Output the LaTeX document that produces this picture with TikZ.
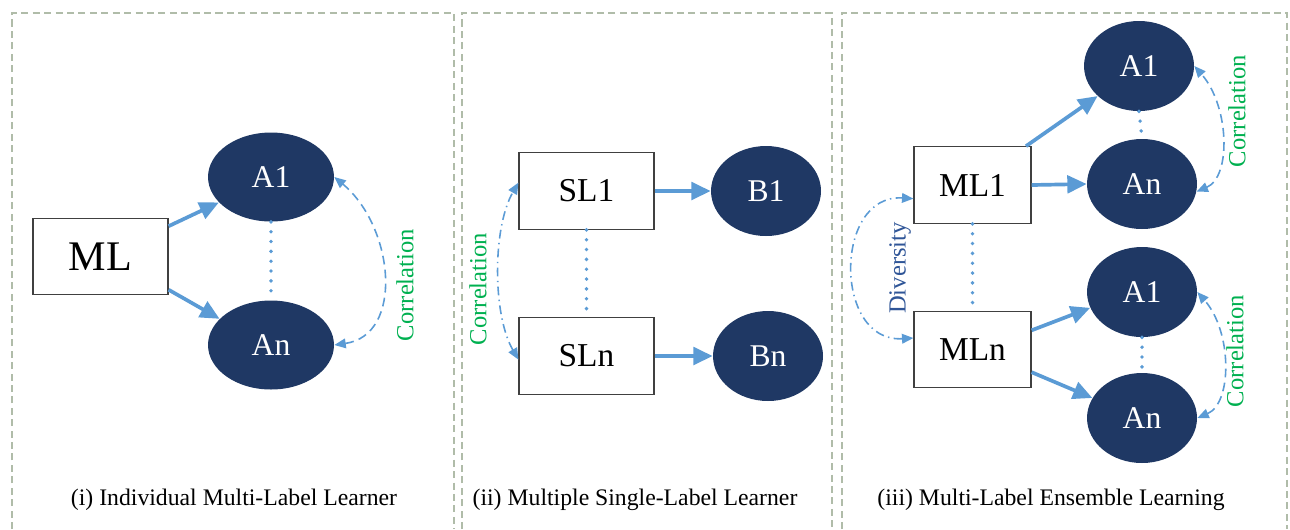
\documentclass[tikz,border=0pt]{standalone}
\usepackage{fontspec}
\setmainfont{Liberation Serif}
\usetikzlibrary{shapes.geometric,arrows.meta}
\definecolor{navy}{HTML}{1F3864}
\definecolor{flowblue}{HTML}{5B9BD5}
\definecolor{corrgreen}{HTML}{00B050}
\definecolor{divblue}{HTML}{2F5597}
\definecolor{boxgray}{HTML}{404040}
\definecolor{framegray}{HTML}{B0BCA9}
\begin{document}
\begin{tikzpicture}[x=0.02cm,y=-0.02cm,
    learner/.style={draw=boxgray,fill=white,line width=0.7pt,minimum width=2.7cm,minimum height=1.53cm,inner sep=0pt,font=\fontsize{19}{19}\selectfont},
    target/.style={ellipse,fill=navy,text=white,minimum width=2.2cm,minimum height=1.8cm,inner sep=0pt,font=\fontsize{18}{18}\selectfont},
    flow/.style={draw=flowblue,line width=2.1pt,-{Triangle[length=11pt,width=10pt]}},
    corr/.style={draw=flowblue,line width=0.9pt,dash pattern=on 5pt off 3pt,{Triangle[length=6.5pt,width=5.5pt]}-{Triangle[length=6.5pt,width=5.5pt]}},
    divers/.style={draw=flowblue,line width=0.9pt,dash pattern=on 5pt off 2.5pt on 0.8pt off 2.5pt,{Triangle[length=6.5pt,width=5.5pt]}-{Triangle[length=6.5pt,width=5.5pt]}},
    dots/.style={draw=flowblue,line width=2.2pt,line cap=round,dash pattern=on 0pt off 5.6pt},
    frame/.style={draw=framegray,line width=0.6pt,dash pattern=on 4pt off 2.5pt},
    vtext/.style={rotate=90,font=\fontsize{14}{14}\selectfont},
    caption/.style={font=\fontsize{13.5}{13.5}\selectfont}]
  \useasboundingbox (0,0) rectangle (1290,529);

  % frames
  \draw[frame] (12,529) -- (12,13) -- (454,13) -- (454,529);
  \draw[frame] (462,529) -- (462,13) -- (832,13) -- (832,529);
  \draw[frame] (842,529) -- (842,13) -- (1287,13) -- (1287,529);

  % (i)
  \node[learner,font=\fontsize{24}{24}\selectfont] (ml) at (100.5,256.5) {ML};
  \node[target,minimum width=2.52cm,minimum height=1.78cm] (a1) at (271,177) {A1};
  \node[target,minimum width=2.52cm,minimum height=1.78cm] (an) at (271,345) {An};
  \draw[flow] (ml.24) -- (a1.206);
  \draw[flow] (ml.-26) -- (an.153);
  \draw[dots] (a1.south) -- (an.north);
  \draw[corr] (an.east) .. controls +(70,-10) and +(60,50) .. (a1.east);
  \node[vtext,text=corrgreen] (corr1) at (405,285) {Correlation};
  \node[caption] (cap1) at (234,500) {(i) Individual Multi-Label Learner};

  % (ii)
  \node[learner] (sl1) at (586.5,191) {SL1};
  \node[learner] (sln) at (586.5,356) {SLn};
  \node[target] (b1) at (766,191) {B1};
  \node[target] (bn) at (768,356) {Bn};
  \draw[flow] (sl1.east) -- (b1.west);
  \draw[flow] (sln.east) -- (bn.west);
  \draw[dots] (sl1.south) -- (sln.north);
  \draw[divers] (sln.183) .. controls +(-26,-45) and +(-26,45) .. (sl1.173);
  \node[vtext,text=corrgreen] (corr2) at (478,289) {Correlation};
  \node[caption] (cap2) at (635,500) {(ii) Multiple Single-Label Learner};

  % (iii)
  \node[learner,minimum width=2.34cm] (ml1) at (972.5,185) {ML1};
  \node[learner,minimum width=2.34cm] (mln) at (972.5,349.5) {MLn};
  \node[target] (a1t) at (1139,66) {A1};
  \node[target] (ant) at (1142,184) {An};
  \node[target] (a1b) at (1142,292) {A1};
  \node[target] (anb) at (1142,418) {An};
  \draw[flow] (ml1.36) -- (a1t.216);
  \draw[flow] (ml1.east) -- (ant.west);
  \draw[flow] (mln.18) -- (a1b.197);
  \draw[flow] (mln.-21) -- (anb.158);
  \draw[dots] (ml1.south) -- (mln.north);
  \draw[dots] (a1t.south) -- (ant.north);
  \draw[dots] (a1b.south) -- (anb.north);
  \draw[corr] (ant.-8) .. controls +(35,-15) and +(35,40) .. (a1t.east);
  \draw[corr] (anb.east) .. controls +(35,-15) and +(35,40) .. (a1b.east);
  \draw[divers] (mln.169) .. controls +(-80,5) and +(-80,-5) .. (ml1.193);
  \node[vtext,text=corrgreen] (corr3) at (1237,111) {Correlation};
  \node[vtext,text=corrgreen] (corr4) at (1235,351) {Correlation};
  \node[vtext,text=divblue] (div) at (900,268) {Diversity};
  \node[caption] (cap3) at (1051,500) {(iii) Multi-Label Ensemble Learning};
\end{tikzpicture}
\end{document}
